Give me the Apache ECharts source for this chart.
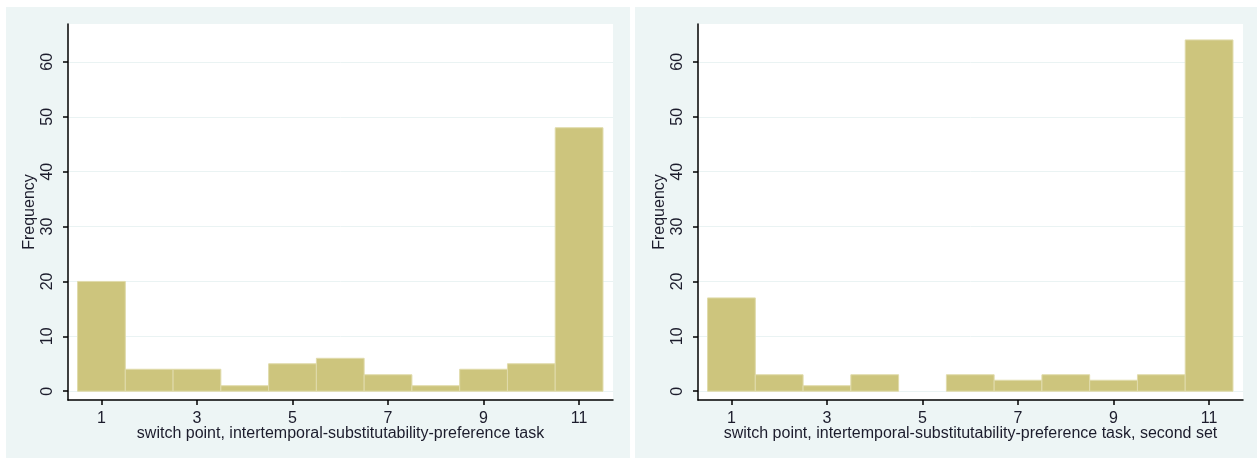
<!DOCTYPE html>
<html>
<head>
<meta charset="utf-8">
<script src="https://cdn.jsdelivr.net/npm/echarts@6/dist/echarts.min.js"></script>
<style>
html, body { margin: 0; padding: 0; background: #fff; }
#chart { width: 1259px; height: 458px; }
</style>
</head>
<body>
<div id="chart"></div>
<script>
// switch point bins and frequencies
var switchPoints = [1, 2, 3, 4, 5, 6, 7, 8, 9, 10, 11];
var freqFirst = [20, 4, 4, 1, 5, 6, 3, 1, 4, 5, 48];
var freqSecond = [17, 3, 1, 3, 0, 3, 2, 3, 2, 3, 64];
var xTicks = [1, 3, 5, 7, 9, 11];
var yTicks = [0, 10, 20, 30, 40, 50, 60];
var xTitles = [
	'switch point, intertemporal-substitutability-preference task',
	'switch point, intertemporal-substitutability-preference task, second set'
];

(function() {
	var chart = echarts.init(document.getElementById('chart'));

	var barColor = '#cdc57d';
	var edgeColor = '#e0dbab';
	var panelBg = '#edf5f5';
	var textColor = '#1c1c2c';
	var fontFamily = '"Liberation Sans", Arial, sans-serif';

	// 直方图矩形
	function renderBin(params, api) {
		var x = api.value(0);
		var h = api.value(1);
		if(!h) {
			return null;
		}
		var p0 = api.coord([x - 0.5, h]);
		var p1 = api.coord([x + 0.5, 0]);
		return {
			type: 'rect',
			shape: {
				x: p0[0],
				y: p0[1],
				width: p1[0] - p0[0],
				height: p1[1] - p0[1]
			},
			style: {
				fill: barColor,
				stroke: edgeColor,
				lineWidth: 1
			}
		};
	}

	function pairs(vals) {
		return switchPoints.map(function(x, i) {
			return [x, vals[i]];
		});
	}

	var lefts = [68, 698];
	var grids = [], xAxes = [], yAxes = [], series = [];
	[freqFirst, freqSecond].forEach(function(vals, i) {
		grids.push({
			left: lefts[i],
			top: 24,
			width: 545,
			height: 376,
			show: true,
			backgroundColor: '#fff',
			borderWidth: 0
		});
		xAxes.push({
			type: 'value',
			gridIndex: i,
			min: 0.3,
			max: 11.71,
			position: 'bottom',
			name: xTitles[i],
			nameLocation: 'middle',
			nameGap: 26,
			nameMoveOverlap: false,
			nameTextStyle: {
				color: textColor,
				fontSize: 16,
				fontFamily: fontFamily
			},
			axisLine: {
				show: true,
				onZero: false,
				lineStyle: { color: '#000', width: 1.5 }
			},
			axisTick: {
				show: true,
				length: 5,
				customValues: xTicks,
				lineStyle: { color: '#000', width: 1.5 }
			},
			axisLabel: {
				customValues: xTicks,
				margin: 11,
				color: textColor,
				fontSize: 16,
				fontFamily: fontFamily
			},
			splitLine: { show: false }
		});
		yAxes.push({
			type: 'value',
			gridIndex: i,
			min: -1.6,
			max: 66.9,
			name: 'Frequency',
			nameLocation: 'middle',
			nameGap: 30,
			nameMoveOverlap: false,
			nameTextStyle: {
				color: textColor,
				fontSize: 16,
				fontFamily: fontFamily
			},
			axisLine: {
				show: true,
				lineStyle: { color: '#000', width: 1.5 }
			},
			axisTick: {
				show: true,
				length: 5,
				customValues: yTicks,
				lineStyle: { color: '#000', width: 1.5 }
			},
			axisLabel: {
				customValues: yTicks,
				rotate: 90,
				margin: 12,
				color: textColor,
				fontSize: 16,
				fontFamily: fontFamily
			},
			splitLine: {
				show: true,
				lineStyle: { color: '#eaf3f3', width: 1 }
			}
		});
		series.push({
			type: 'custom',
			xAxisIndex: i,
			yAxisIndex: i,
			renderItem: renderBin,
			encode: { x: 0, y: 1 },
			data: pairs(vals),
			animation: false
		});
	});

	var option = {
		backgroundColor: '#fff',
		animation: false,
		graphic: [{
			type: 'rect',
			z: -10,
			shape: { x: 6, y: 7, width: 624, height: 451 },
			style: { fill: panelBg }
		}, {
			type: 'rect',
			z: -10,
			shape: { x: 635, y: 7, width: 622, height: 451 },
			style: { fill: panelBg }
		}],
		grid: grids,
		xAxis: xAxes,
		yAxis: yAxes,
		series: series
	};
	chart.setOption(option);
})();
</script>
</body>
</html>
